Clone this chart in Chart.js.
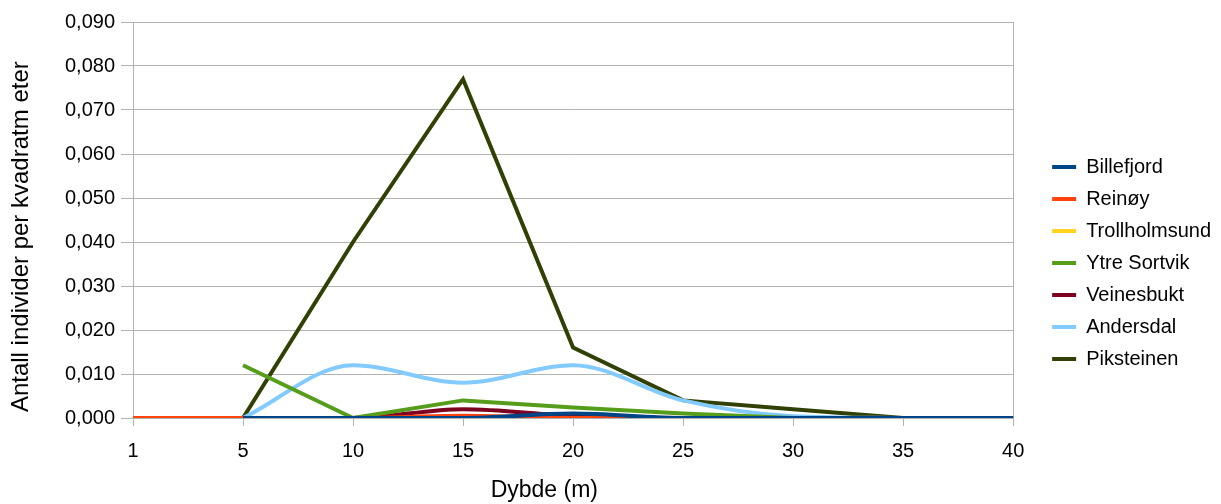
<!DOCTYPE html>
<html>
<head>
<meta charset="utf-8">
<script src="https://cdn.jsdelivr.net/npm/chart.js@4/dist/chart.umd.min.js"></script>
<style>
  html, body { margin: 0; padding: 0; background: #fff; }
  #wrap { width: 1221px; height: 504px; }
</style>
</head>
<body>
<div id="wrap"><canvas id="c" width="1221" height="504"></canvas></div>
<script>
// Depth categories (m)
const depths = ['1', '5', '10', '15', '20', '25', '30', '35', '40'];

// Individuals per square metre at each depth, per site
const billefjord    = [null, 0, 0, 0, 0.001, 0, 0, 0, 0];
const reinoy        = [0, 0, 0, 0.0005, 0, 0, 0, 0, 0];
const trollholmsund = [null, null, null, 0.0004, 0, 0, 0, 0, 0];
const ytreSortvik   = [null, 0.012, 0, 0.004, 0.0024, 0.001, 0, 0, 0];
const veinesbukt    = [null, 0, 0, 0.002, 0.0005, 0, 0, 0, 0];
const andersdal     = [null, 0, 0.012, 0.008, 0.012, 0.004, 0.0004, 0, null];
const piksteinen    = [null, 0, 0.040, 0.077, 0.016, 0.004, 0.002, 0, null];

const yMin = 0, yMax = 0.09, yStep = 0.01;

const FONT = 'Liberation Sans, Arial, sans-serif';
const GRID = '#b3b3b3';
const PAD = '\u00a0';

function series(label, data, color, smooth) {
  return {
    label, data,
    borderColor: color,
    backgroundColor: color,
    borderWidth: 4,
    pointRadius: 0,
    pointHoverRadius: 0,
    tension: smooth ? 0.4 : 0,
    cubicInterpolationMode: smooth ? 'monotone' : 'default',
    fill: false,
    spanGaps: false,
    borderJoinStyle: 'miter',
    borderCapStyle: 'butt'
  };
}

new Chart(document.getElementById('c'), {
  type: 'line',
  data: {
    labels: depths,
    datasets: [
      series('Billefjord', billefjord, '#004586', true),
      series('Reinøy', reinoy, '#ff420e', true),
      series('Trollholmsund', trollholmsund, '#ffd320', true),
      series('Ytre Sortvik', ytreSortvik, '#579d1c', false),
      series('Veinesbukt', veinesbukt, '#7e0021', true),
      series('Andersdal', andersdal, '#83caff', true),
      series('Piksteinen', piksteinen, '#314004', false)
    ]
  },
  options: {
    responsive: false,
    animation: false,
    events: [],
    layout: { padding: { left: 0, right: 0, top: 22, bottom: 0 } },
    plugins: {
      tooltip: { enabled: false },
      legend: {
        position: 'right',
        align: 'center',
        labels: {
          usePointStyle: true,
          pointStyle: 'line',
          pointStyleWidth: 24,
          color: '#000',
          padding: 12,
          font: { family: FONT, size: 20 }
        }
      }
    },
    scales: {
      x: {
        type: 'category',
        offset: false,
        border: { display: true, color: GRID, width: 1 },
        grid: {
          drawOnChartArea: false,
          drawTicks: true,
          tickLength: 8,
          tickColor: GRID,
          lineWidth: 1,
          color: GRID
        },
        ticks: {
          color: '#000',
          padding: 13,
          maxRotation: 0,
          font: { family: FONT, size: 20 }
        },
        title: {
          display: true,
          text: 'Dybde (m)' + PAD.repeat(9),
          color: '#000',
          padding: { top: 6, bottom: 0 },
          font: { family: FONT, size: 23 }
        },
        afterFit: (scale) => { scale.height = 86; }
      },
      y: {
        min: yMin,
        max: yMax,
        border: { display: true, color: GRID, width: 1 },
        grid: {
          color: GRID,
          lineWidth: 1,
          tickLength: 12,
          tickColor: GRID
        },
        ticks: {
          stepSize: yStep,
          color: '#000',
          padding: 6,
          font: { family: FONT, size: 20 },
          callback: (v) => Number(v).toFixed(3).replace('.', ',')
        },
        title: {
          display: true,
          text: 'Antall individer per kvadratm eter' + PAD.repeat(5),
          color: '#000',
          padding: { top: 7, bottom: 4 },
          font: { family: FONT, size: 24 }
        },
        afterFit: (scale) => { scale.width = 133; }
      },
      // right-hand frame line of the plot, also leaves the gap before the legend
      frame: {
        type: 'linear',
        position: 'right',
        display: true,
        min: yMin,
        max: yMax,
        border: { display: true, color: GRID, width: 1 },
        grid: { display: false },
        ticks: { display: false },
        afterFit: (scale) => { scale.width = 27; }
      }
    }
  }
});
</script>
</body>
</html>
